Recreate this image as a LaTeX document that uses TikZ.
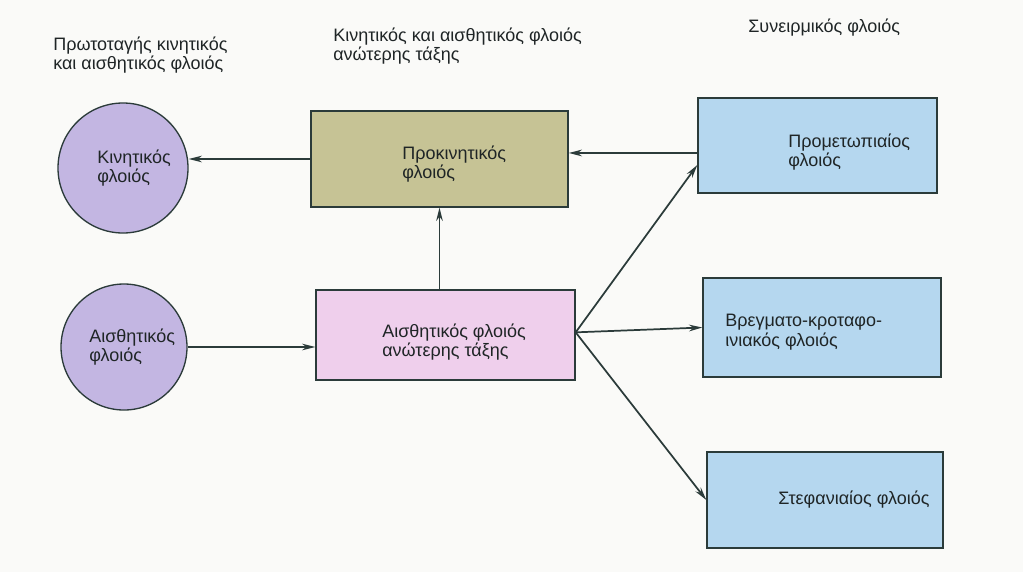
\documentclass[tikz,border=0pt]{standalone}
\usepackage{fontspec}
\setmainfont{Liberation Sans}
\usetikzlibrary{arrows.meta}
\definecolor{lav}{HTML}{C3B6E2}
\definecolor{olivebox}{HTML}{C6C395}
\definecolor{pinkbox}{HTML}{EFCFEC}
\definecolor{bluebox}{HTML}{B5D7EF}
\definecolor{ink}{HTML}{2B3B3A}
\definecolor{txtcol}{HTML}{1F2526}
\definecolor{paper}{HTML}{FAFAF8}
\begin{document}
\begin{tikzpicture}[x=0.75pt,y=-0.75pt,
  font=\fontsize{13.5}{14.5}\selectfont,
  circ/.style={circle, draw=ink, line width=1pt, fill=lav, inner sep=0pt},
  boxn/.style={rectangle, draw=ink, line width=1pt, inner sep=0pt},
  txt/.style={align=left, anchor=west, text=txtcol, inner sep=0pt},
  conn/.style={draw=ink, line width=1.3pt, -{Stealth[length=10pt,width=5pt]}}]
\useasboundingbox (0,0) rectangle (1023,572);
\fill[paper] (0,0) rectangle (1023,572);

% headers
\node[txt] (h1) at (53,55) {Πρωτοταγής κινητικός\\και αισθητικός φλοιός};
\node[txt] (h2) at (333,46) {Κινητικός και αισθητικός φλοιός\\ανώτερης τάξης};
\node[txt] (h3) at (748,28) {Συνειρμικός φλοιός};

% primary cortex circles
\node[circ, minimum size=97.5pt] (mc) at (123,168) {};
\node[txt] (mct) at (97,168) {Κινητικός\\φλοιός};
\node[circ, minimum size=94.5pt] (sc) at (124,347) {};
\node[txt] (sct) at (89,347) {Αισθητικός\\φλοιός};

% higher order boxes
\node[boxn, fill=olivebox, minimum width=192.75pt, minimum height=72pt] (pm) at (439.5,159) {};
\node[txt] (pmt) at (402,164) {Προκινητικός\\φλοιός};
\node[boxn, fill=pinkbox, minimum width=194.25pt, minimum height=67.5pt] (ss) at (445.5,335) {};
\node[txt] (sst) at (382,342) {Αισθητικός φλοιός\\ανώτερης τάξης};

% association boxes
\node[boxn, fill=bluebox, minimum width=179.25pt, minimum height=71.25pt] (pf) at (817.5,145.5) {};
\node[txt] (pft) at (788,152) {Προμετωπιαίος\\φλοιός};
\node[boxn, fill=bluebox, minimum width=178.5pt, minimum height=74.25pt] (pt) at (822,327.5) {};
\node[txt] (ptt) at (725,332) {Βρεγματο-κροταφο-\\ινιακός φλοιός};
\node[boxn, fill=bluebox, minimum width=177pt, minimum height=72pt] (cr) at (825,500) {};
\node[txt] (crt) at (778,500) {Στεφανιαίος φλοιός};

% connectors
\draw[conn] (pm.west) -- (pm.west -| mc.east);
\draw[conn] (sc.east) -- (sc.east -| ss.west);
\draw[conn] (pm.south |- ss.north) -- (pm.south);
\draw[conn] ([yshift=-5.6pt]pf.west) -- ([yshift=-5.6pt]pf.west -| pm.east);
\coordinate (fan) at ([yshift=2pt]ss.east);
\draw[conn] (fan) -- ([yshift=-14.6pt]pf.west);
\draw[conn] (fan) -- (pt.west);
\draw[conn] (fan) -- (cr.west);
\end{tikzpicture}
\end{document}
